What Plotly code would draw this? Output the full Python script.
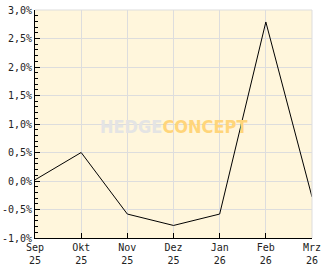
import plotly.graph_objects as go

months = ["Sep<br>25", "Okt<br>25", "Nov<br>25", "Dez<br>25", "Jan<br>26", "Feb<br>26", "Mrz<br>26"]
values = [0.02, 0.5, -0.58, -0.78, -0.58, 2.79, -0.28]
y_tickvals = [-1.0, -0.5, 0.0, 0.5, 1.0, 1.5, 2.0, 2.5, 3.0]
y_ticktext = ["-1,0%", "-0,5%", "0,0%", "0,5%", "1,0%", "1,5%", "2,0%", "2,5%", "3,0%"]

x = list(range(len(months)))
font = dict(family="DejaVu Sans Mono", size=10, color="#222")

fig = go.Figure()
fig.add_trace(go.Scatter(x=x, y=values, mode="lines",
                         line=dict(color="black", width=1), hoverinfo="skip"))

fig.update_layout(
    width=332, height=269,
    margin=dict(l=35, r=20, t=10, b=31),
    paper_bgcolor="white", plot_bgcolor="#FFF6DC",
    showlegend=False,
    font=font,
    xaxis=dict(range=[0, 6], tickvals=x, ticktext=months, showgrid=True,
               gridcolor="#DDDDDD", gridwidth=1, zeroline=False,
               showline=True, linecolor="black", linewidth=1,
               ticks="inside", ticklen=5, tickcolor="black", tickfont=font,
               mirror=False, automargin=False),
    yaxis=dict(range=[-1.0, 3.0], tickvals=y_tickvals, ticktext=y_ticktext,
               showgrid=True, gridcolor="#DDDDDD", gridwidth=1, zeroline=False,
               showline=True, linecolor="black", linewidth=1,
               ticks="inside", ticklen=5, tickcolor="black", tickfont=font,
               automargin=False, ticklabelstandoff=0,
               minor=dict(dtick=0.1, ticks="inside", ticklen=3, tickcolor="black", showgrid=False)),
    shapes=[
        dict(type="line", xref="paper", yref="paper", x0=0, x1=1, y0=1, y1=1,
             line=dict(color="#DDDDDD", width=1)),
        dict(type="line", xref="paper", yref="paper", x0=1, x1=1, y0=0, y1=1,
             line=dict(color="#DDDDDD", width=1)),
    ],
    annotations=[dict(
        xref="paper", yref="paper", x=0.5, y=0.49, showarrow=False,
        text="<b><span style='color:#E4E4E4'>HEDGE</span><span style='color:#FFD57A'>CONCEPT</span></b>",
        font=dict(family="DejaVu Sans Condensed", size=18),
    )],
)

fig.write_html("out.html")
